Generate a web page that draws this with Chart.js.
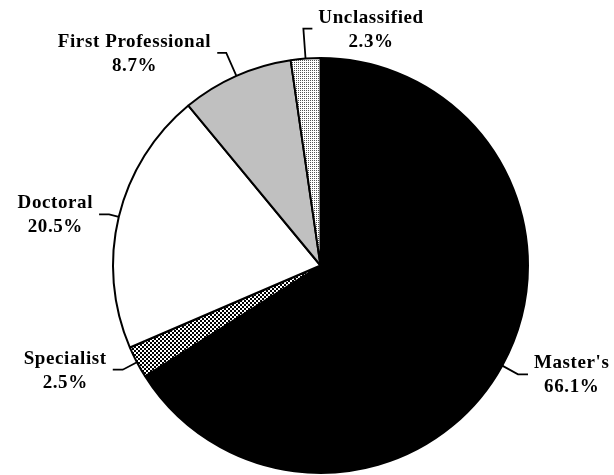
<!DOCTYPE html>
<html>
<head>
<meta charset="utf-8">
<script src="https://cdn.jsdelivr.net/npm/chart.js@4/dist/chart.umd.min.js"></script>
<style>
html,body{margin:0;padding:0;background:#fff;}
canvas{display:block;}
</style>
</head>
<body>
<canvas id="c" width="614" height="475"></canvas>
<script>
// ---- data ----
const categories = ["Master's", "Specialist", "Doctoral", "First Professional", "Unclassified"];
const percentValues = [66.1, 2.5, 20.5, 8.7, 2.3];

// ---- label leader settings (styling, not data) ----
const leaderOut = [18, 16, 10, 25, 30];
const leaderHoriz = [10, 10, 10, 9, 9];
const leaderSide = [1, -1, -1, -1, 1];

function makePattern(size, cells) {
  const c = document.createElement('canvas');
  c.width = size; c.height = size;
  const x = c.getContext('2d');
  x.fillStyle = '#fff'; x.fillRect(0, 0, size, size);
  cells.forEach(([px, py, w, h, col]) => { x.fillStyle = col; x.fillRect(px, py, w, h); });
  return x.createPattern(c, 'repeat');
}
const ctx0 = document.getElementById('c').getContext('2d');
const checker = makePattern(4, [[0,0,2,2,'#000'],[2,2,2,2,'#000']]);
const dots = makePattern(2, [[0,0,1,1,'#555']]);

const fills = ['#000000', checker, '#ffffff', '#c0c0c0', dots];

const FONT = 'bold 19px "Liberation Serif", "Times New Roman", serif';

const labelPlugin = {
  id: 'leaderLabels',
  afterDatasetsDraw(chart) {
    const ctx = chart.ctx;
    const meta = chart.getDatasetMeta(0);
    ctx.save();
    ctx.font = FONT;
    try { ctx.letterSpacing = '0.6px'; } catch (e) {}
    ctx.fillStyle = '#000';
    ctx.strokeStyle = '#000';
    ctx.lineWidth = 1.8;
    meta.data.forEach((arc, i) => {
      const p = arc.getProps(['x', 'y', 'startAngle', 'endAngle', 'outerRadius'], true);
      const mid = (p.startAngle + p.endAngle) / 2;
      const ax = p.x + Math.cos(mid) * p.outerRadius;
      const ay = p.y + Math.sin(mid) * p.outerRadius;
      const ex = ax + Math.cos(mid) * leaderOut[i];
      const ey = ay + Math.sin(mid) * leaderOut[i];
      const side = leaderSide[i];
      const hx = ex + side * leaderHoriz[i];
      const hy = ey;
      ctx.beginPath();
      ctx.moveTo(ax, ay);
      ctx.lineTo(ex, ey);
      ctx.lineTo(hx, hy);
      ctx.stroke();
      const line1 = categories[i];
      const line2 = percentValues[i].toFixed(1) + '%';
      const w = Math.max(ctx.measureText(line1).width, ctx.measureText(line2).width);
      const gap = 6;
      const cx = side > 0 ? hx + gap + w / 2 : hx - gap - w / 2;
      ctx.textAlign = 'center';
      ctx.textBaseline = 'middle';
      ctx.fillText(line1, cx, hy - 11);
      ctx.fillText(line2, cx, hy + 13);
    });
    ctx.restore();
  }
};

new Chart(ctx0, {
  type: 'pie',
  data: {
    labels: categories,
    datasets: [{
      data: percentValues,
      backgroundColor: fills,
      borderColor: '#000',
      borderWidth: 2
    }]
  },
  options: {
    responsive: false,
    animation: false,
    layout: { padding: { left: 112, right: 85, top: 57, bottom: 1 } },
    plugins: { legend: { display: false }, tooltip: { enabled: false } }
  },
  plugins: [labelPlugin]
});
</script>
</body>
</html>
